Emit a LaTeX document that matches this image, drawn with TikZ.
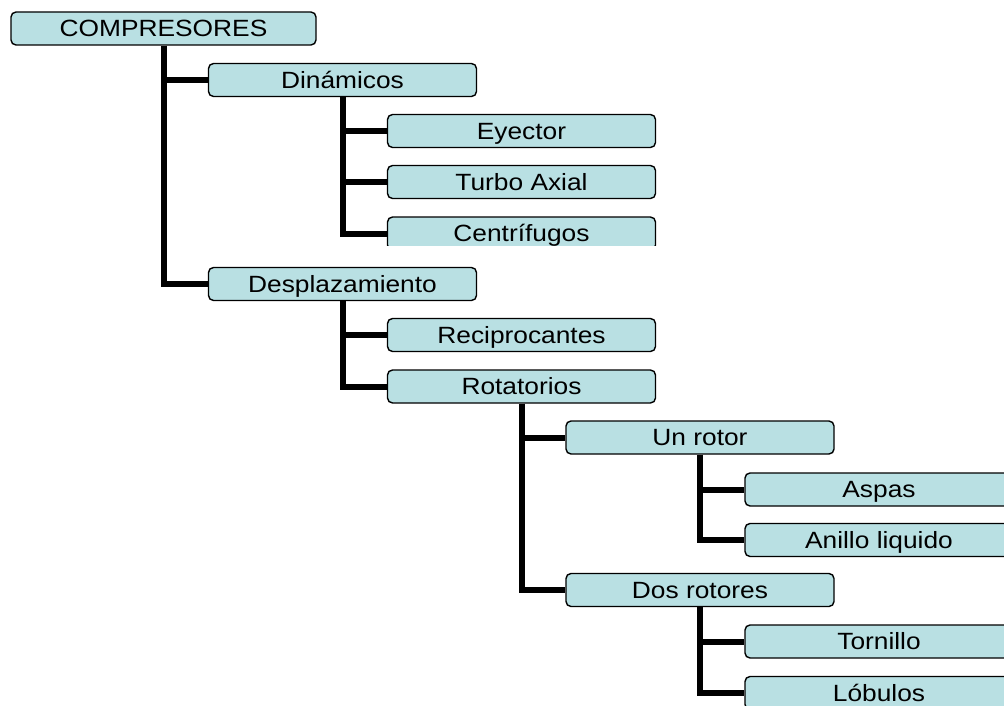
\documentclass[tikz,border=0pt]{standalone}
\usepackage{fontspec}
\setmainfont{Liberation Sans}
\usepackage{graphicx}
\definecolor{boxfill}{RGB}{185,224,227}
\begin{document}
\begin{tikzpicture}[x=1pt,y=-1pt,
  box/.style={draw=black,line width=1.4pt,fill=boxfill,rounded corners=5pt,
    minimum height=33pt,inner sep=0pt,text height=16.8pt,text depth=-1.5pt,
    font=\fontsize{23.5}{28}\selectfont},
  w305/.style={minimum width=305pt},
  w269/.style={minimum width=268pt},
  link/.style={line width=6pt,draw=black}]
\useasboundingbox (0,0) rectangle (1004,706);
\clip (0,0) rectangle (1004,706);
\newcommand{\wt}[1]{\scalebox{1.12}[1]{#1}}
\node[box,w305] (comp) at (163.5,28.5) {\wt{COMPRESORES}};
\node[box,w269] (din) at (342.5,80) {\wt{Dinámicos}};
\node[box,w269] (eye) at (521.5,131) {\wt{Eyector}};
\node[box,w269] (turbo) at (521.5,182) {\wt{Turbo Axial}};
\begin{scope}
\clip (0,0) rectangle (1004,245);
\node[box,w269] (cent) at (521.5,233.5) {\wt{Centrífugos}};
\end{scope}
\node[box,w269] (desp) at (342.5,284) {\wt{Desplazamiento}};
\node[box,w269] (recip) at (521.5,335) {\wt{Reciprocantes}};
\node[box,w269] (rot) at (521.5,386.5) {\wt{Rotatorios}};
\node[box,w269] (unr) at (700,437.5) {\wt{Un rotor}};
\node[box,w269] (asp) at (879,489.5) {\wt{Aspas}};
\node[box,w269] (anillo) at (879,540) {\wt{Anillo liquido}};
\node[box,w269] (dos) at (700,590) {\wt{Dos rotores}};
\node[box,w269] (torn) at (879,641.5) {\wt{Tornillo}};
\node[box,w269] (lob) at (879,693) {\wt{Lóbulos}};
\draw[link] (comp.south) |- (din.west);
\draw[link] (comp.south) |- (desp.west);
\draw[link] (din.south) |- (eye.west);
\draw[link] (din.south) |- (turbo.west);
\draw[link] (din.south) |- (cent.west);
\draw[link] (desp.south) |- (recip.west);
\draw[link] (desp.south) |- (rot.west);
\draw[link] (rot.south) |- (unr.west);
\draw[link] (rot.south) |- (dos.west);
\draw[link] (unr.south) |- (asp.west);
\draw[link] (unr.south) |- (anillo.west);
\draw[link] (dos.south) |- (torn.west);
\draw[link] (dos.south) |- (lob.west);
\end{tikzpicture}
\end{document}
